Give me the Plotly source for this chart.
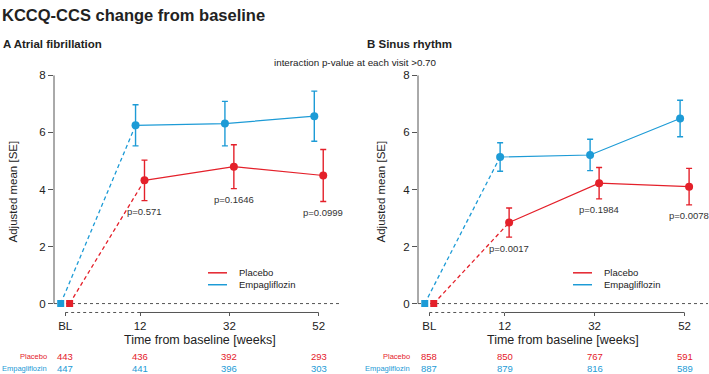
import plotly.graph_objects as go

# ---------------- data ----------------
weeks = [12, 32, 52]
x_tick_labels = ["BL", "12", "32", "52"]
bl_pos = -4.75

af_placebo = [4.32, 4.80, 4.49]
af_placebo_se = [0.71, 0.77, 0.91]
af_empa = [6.25, 6.31, 6.57]
af_empa_se = [0.72, 0.78, 0.88]
af_pvals = ["p=0.571", "p=0.1646", "p=0.0999"]
af_placebo_n = [443, 436, 392, 293]
af_empa_n = [447, 441, 396, 303]

sr_placebo = [2.84, 4.22, 4.10]
sr_placebo_se = [0.51, 0.55, 0.64]
sr_empa = [5.14, 5.21, 6.49]
sr_empa_se = [0.50, 0.55, 0.64]
sr_pvals = ["p=0.0017", "p=0.1984", "p=0.0078"]
sr_placebo_n = [858, 850, 767, 591]
sr_empa_n = [887, 879, 816, 589]

RED = "#E4202A"
BLUE = "#1D9BD6"
FONT = "Liberation Sans, Arial, sans-serif"
W, H = 709, 374


def px(x):
    return x / W


def py(y):
    return 1 - y / H


fig = go.Figure()

panels = [
    dict(xa="x", ya="y", pl=af_placebo, pls=af_placebo_se, em=af_empa, ems=af_empa_se,
         pv=af_pvals, pn=af_placebo_n, en=af_empa_n),
    dict(xa="x2", ya="y2", pl=sr_placebo, pls=sr_placebo_se, em=sr_empa, ems=sr_empa_se,
         pv=sr_pvals, pn=sr_placebo_n, en=sr_empa_n),
]

off = 1.0
for p in panels:
    for vals, ses, col, sgn in [(p["em"], p["ems"], BLUE, -1), (p["pl"], p["pls"], RED, 1)]:
        xs = [w + sgn * off for w in weeks]
        fig.add_trace(go.Scatter(x=[bl_pos + sgn * off, xs[0]], y=[0, vals[0]], mode="lines",
                                 line=dict(color=col, width=1.3, dash="4px,3px"),
                                 xaxis=p["xa"], yaxis=p["ya"], showlegend=False, hoverinfo="skip"))
        fig.add_trace(go.Scatter(x=[bl_pos + sgn * off], y=[0], mode="markers",
                                 marker=dict(symbol="square", size=7, color=col),
                                 xaxis=p["xa"], yaxis=p["ya"], showlegend=False))
        fig.add_trace(go.Scatter(x=xs, y=vals, mode="lines+markers",
                                 line=dict(color=col, width=1.2),
                                 marker=dict(symbol="circle", size=8, color=col),
                                 error_y=dict(type="data", array=ses, color=col, thickness=1.4, width=3),
                                 xaxis=p["xa"], yaxis=p["ya"], showlegend=False))

shapes = []
annotations = []

tickfont = dict(size=11.5, color="#222", family=FONT)
axis_common = dict(showgrid=False, zeroline=False, showline=False)
fig.update_layout(
    xaxis=dict(domain=[px(54), px(342)], range=[-7.25, 57.2], anchor="y",
               tickvals=[bl_pos] + weeks, ticktext=x_tick_labels, ticks="outside", ticklen=3,
               tickcolor="#555", tickfont=tickfont, **axis_common),
    yaxis=dict(domain=[py(312), py(70)], range=[-0.313, 8.104], anchor="x",
               tickvals=[0, 2, 4, 6, 8], ticks="outside", ticklen=5, tickcolor="#555",
               tickfont=tickfont, **axis_common),
    xaxis2=dict(domain=[px(418), px(708)], range=[-7.25, 57.2], anchor="y2",
                tickvals=[bl_pos] + weeks, ticktext=x_tick_labels, ticks="outside", ticklen=3,
                tickcolor="#555", tickfont=tickfont, **axis_common),
    yaxis2=dict(domain=[py(312), py(70)], range=[-0.313, 8.104], anchor="x2",
                tickvals=[0, 2, 4, 6, 8], ticks="outside", ticklen=5, tickcolor="#555",
                tickfont=tickfont, **axis_common),
)


def paper_text(x, y, text, size, color="#222", xanchor="center", angle=0):
    annotations.append(dict(x=px(x), y=py(y), xref="paper", yref="paper", text=text,
                            xanchor=xanchor, yanchor="middle", showarrow=False, textangle=angle,
                            font=dict(size=size, color=color, family=FONT)))


for p, xa, ya, title_x, lab_right, leg_x in [
    (panels[0], "x", "y", 200, 49, 208),
    (panels[1], "x2", "y2", 563, 412, 573),
]:
    shapes.append(dict(type="line", xref=f"{xa} domain", yref=ya, x0=0, x1=0, y0=0, y1=8,
                       line=dict(color="#555", width=1)))
    shapes.append(dict(type="line", xref=f"{xa} domain", yref=ya, x0=0, x1=1, y0=0, y1=0,
                       line=dict(color="#555", width=1, dash="3px,3px"), layer="below"))
    shapes.append(dict(type="line", xref=xa, yref=f"{ya} domain", x0=bl_pos, x1=weeks[0], y0=0, y1=0,
                       line=dict(color="#555", width=1, dash="3px,3px")))
    shapes.append(dict(type="line", xref=xa, yref=f"{ya} domain", x0=weeks[0], x1=weeks[-1], y0=0, y1=0,
                       line=dict(color="#555", width=1)))
    for w, v, s, t in zip(weeks, p["pl"], p["pls"], p["pv"]):
        annotations.append(dict(x=w + off, y=v - s, xref=xa, yref=ya, text=t, showarrow=False,
                                xanchor="center", yanchor="middle", yshift=-11,
                                font=dict(size=9.5, color="#333", family=FONT)))
    for w, n1, n2 in zip([bl_pos] + weeks, p["pn"], p["en"]):
        annotations.append(dict(x=w, y=py(356), xref=xa, yref="paper", text=str(n1), showarrow=False,
                                xanchor="center", yanchor="middle",
                                font=dict(size=9.5, color=RED, family=FONT)))
        annotations.append(dict(x=w, y=py(368), xref=xa, yref="paper", text=str(n2), showarrow=False,
                                xanchor="center", yanchor="middle",
                                font=dict(size=9.5, color=BLUE, family=FONT)))
    paper_text(lab_right, 356, "Placebo", 7.5, RED, xanchor="right")
    paper_text(lab_right, 368, "Empagliflozin", 7.5, BLUE, xanchor="right")
    paper_text(title_x, 339.5, "Time from baseline [weeks]", 12.5)
    for yy, col, name in [(272, RED, "Placebo"), (284, BLUE, "Empagliflozin")]:
        shapes.append(dict(type="line", xref="paper", yref="paper", x0=px(leg_x), x1=px(leg_x + 19),
                           y0=py(yy), y1=py(yy), line=dict(color=col, width=1.5)))
        paper_text(leg_x + 29, yy, name, 9.5, xanchor="left")

for xx in [13, 381]:
    paper_text(xx, 190, "Adjusted mean [SE]", 11.5, angle=-90)

paper_text(0, 12, "<b>KCCQ-CCS change from baseline</b>", 16.5, xanchor="left")
paper_text(1, 41, "<b>A Atrial fibrillation</b>", 11.5, xanchor="left")
paper_text(365, 41, "<b>B Sinus rhythm</b>", 11.5, xanchor="left")
paper_text(355, 60, "interaction p-value at each visit &gt;0.70", 9.8)

fig.update_layout(width=W, height=H, margin=dict(l=0, r=0, t=0, b=0), autosize=False,
                  paper_bgcolor="white", plot_bgcolor="white", showlegend=False,
                  shapes=shapes, annotations=annotations, font=dict(family=FONT))

fig.write_html("out.html")
